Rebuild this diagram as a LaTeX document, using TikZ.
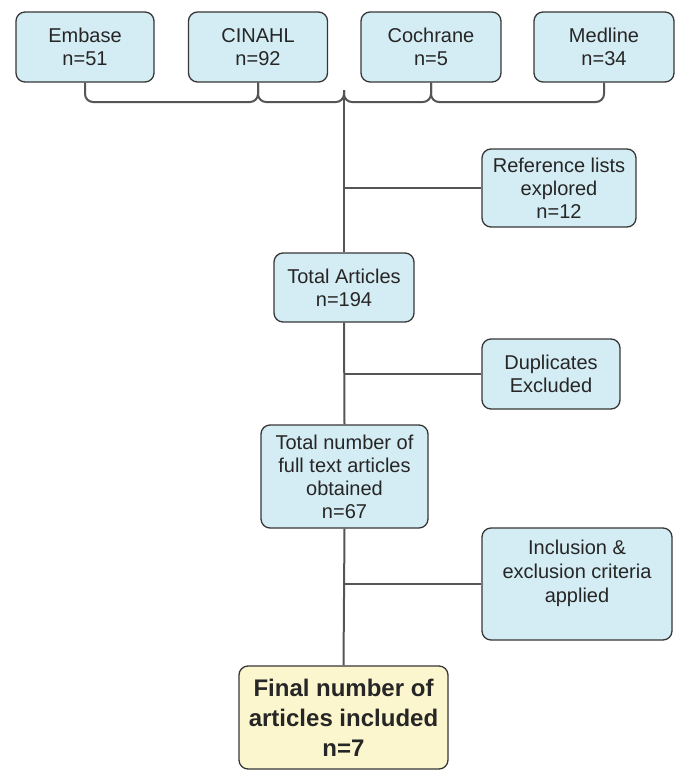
\documentclass[tikz,border=0pt]{standalone}
\usepackage{fontspec}
\setmainfont{Liberation Sans}
\definecolor{boxblue}{HTML}{D4ECF3}
\definecolor{boxyellow}{HTML}{FCF6CE}
\definecolor{edgegray}{HTML}{363636}
\definecolor{linegray}{HTML}{555555}
\begin{document}
\begin{tikzpicture}[x=1pt,y=-1pt,
  box/.style={draw=edgegray, fill=boxblue, rounded corners=9pt, line width=1.3pt,
    inner sep=0pt, align=center, font=\fontsize{20}{23}\selectfont, text=black!85},
  finalbox/.style={box, fill=boxyellow, font=\fontsize{24}{30}\selectfont\bfseries},
  plain/.style={inner sep=0pt, align=center, font=\fontsize{20}{24}\selectfont, text=black!85},
  conn/.style={draw=linegray, line width=2pt},
  brace/.style={conn, rounded corners=8pt}]
\useasboundingbox (0,0) rectangle (678,771);
% source boxes
\node[box, minimum width=138pt, minimum height=70pt] (e) at (85,47) {Embase\\n=51};
\node[box, minimum width=139pt, minimum height=70pt] (c) at (258,47) {CINAHL\\n=92};
\node[box, minimum width=140pt, minimum height=70pt] (co) at (431,47) {Cochrane\\n=5};
\node[box, minimum width=140pt, minimum height=70pt] (m) at (604,47) {Medline\\n=34};
% flow boxes
\node[box, minimum width=154pt, minimum height=78pt] (ref) at (559,188) {Reference lists\\explored\\n=12};
\node[box, minimum width=140pt, minimum height=69pt] (tot) at (344,287.5) {Total Articles\\n=194};
\node[box, minimum width=138pt, minimum height=70pt] (dup) at (551,374) {Duplicates\\Excluded};
\node[box, minimum width=167pt, minimum height=103pt] (full) at (344.5,476.5) {Total number of\\full text articles\\obtained\\n=67};
\node[box, minimum width=190pt, minimum height=112pt] (inc) at (577,584) {};
\node[plain] (inctext) at (577,573) {Inclusion \&\\exclusion criteria\\applied};
\node[finalbox, minimum width=209pt, minimum height=103pt] (fin) at (343.5,717.5) {Final number of\\articles included\\n=7};
% brace
\coordinate (top) at (344,90);
\coordinate (mid) at (344,102);
\draw[brace] (e.south) |- (c.south |- mid) -- (c.south);
\draw[brace] (c.south) |- (mid) -- (top);
\draw[brace] (m.south) |- (co.south |- mid) -- (co.south);
\draw[brace] (co.south) |- (mid) -- (top);
% trunk
\draw[conn] (top) -- (tot.north);
\draw[conn] (tot.south) -- (full.north);
\draw[conn] (full.south) -- (fin.north);
% side branches
\draw[conn] (ref.west) -- (ref.west -| top);
\draw[conn] (dup.west) -- (dup.west -| top);
\draw[conn] (inc.west) -- (inc.west -| top);
\end{tikzpicture}
\end{document}
